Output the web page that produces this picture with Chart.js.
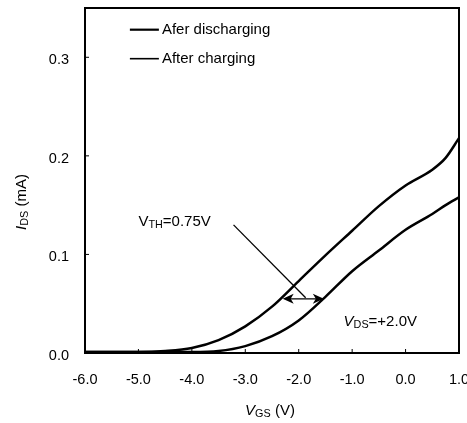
<!DOCTYPE html>
<html>
<head>
<meta charset="utf-8">
<script src="https://cdn.jsdelivr.net/npm/chart.js@4/dist/chart.umd.min.js"></script>
<style>
  html, body { margin: 0; padding: 0; background: #fff; }
  #wrap { width: 467px; height: 423px; }
</style>
</head>
<body>
<div id="wrap"><canvas id="myChart"></canvas></div>
<script>
// gate voltage (V)
const vgs = [-6.0, -5.5, -5.0, -4.5, -4.0, -3.5, -3.0, -2.5, -2.0, -1.5, -1.0, -0.5, 0.0, 0.5, 0.75, 1.0];
// drain current (mA)
const idsDischarging = [0.001, 0.001, 0.001, 0.002, 0.005, 0.013, 0.027, 0.047, 0.073, 0.099, 0.124, 0.149, 0.170, 0.186, 0.198, 0.218];
const idsCharging    = [0.001, 0.001, 0.001, 0.001, 0.001, 0.002, 0.007, 0.017, 0.033, 0.057, 0.083, 0.104, 0.125, 0.141, 0.150, 0.158];
const seriesLabels = ['Afer discharging', 'After charging'];
const xTicks = [-6, -5, -4, -3, -2, -1, 0, 1];
const yTicks = [0, 0.1, 0.2, 0.3];

// annotation anchors in data units
const arrowY = 0.055, arrowFrom = -2.3, arrowTo = -1.53;
const leaderFrom = [-3.22, 0.130], leaderTo = [-1.87, 0.056];
const vthPos = [-5.0, 0.133];
const vdsPos = [-1.16, 0.032];
const legendPos = [-5.16, 0.328];

const FONT = '"Liberation Sans", Arial, sans-serif';

function pts(ys) {
  return vgs.map((v, i) => ({ x: v, y: ys[i] }));
}

// draw a run of text parts, some subscript / italic
function drawParts(ctx, x, y, parts, size) {
  ctx.textBaseline = 'middle';
  ctx.textAlign = 'left';
  parts.forEach(p => {
    const s = p.sub ? size * 0.72 : size;
    ctx.font = (p.italic ? 'italic ' : '') + s + 'px ' + FONT;
    ctx.fillText(p.t, x, y + (p.sub ? size * 0.22 : 0));
    x += ctx.measureText(p.t).width;
  });
  return x;
}

function partsWidth(ctx, parts, size) {
  let w = 0;
  parts.forEach(p => {
    ctx.font = (p.italic ? 'italic ' : '') + (p.sub ? size * 0.72 : size) + 'px ' + FONT;
    w += ctx.measureText(p.t).width;
  });
  return w;
}

function arrowHead(ctx, x, y, dir) {
  ctx.beginPath();
  ctx.moveTo(x, y);
  ctx.lineTo(x - dir * 11, y - 5);
  ctx.lineTo(x - dir * 8, y);
  ctx.lineTo(x - dir * 11, y + 5);
  ctx.closePath();
  ctx.fill();
}

const extras = {
  id: 'extras',
  afterDraw(chart) {
    const ctx = chart.ctx, xs = chart.scales.x, ys = chart.scales.y, a = chart.chartArea;
    ctx.save();
    ctx.strokeStyle = '#000';
    ctx.fillStyle = '#000';

    // frame
    ctx.lineWidth = 2;
    ctx.strokeRect(a.left, a.top, a.right - a.left, a.bottom - a.top);

    // inward ticks
    ctx.lineWidth = 1;
    ctx.beginPath();
    xTicks.forEach(v => {
      const px = xs.getPixelForValue(v);
      ctx.moveTo(px, a.bottom); ctx.lineTo(px, a.bottom - 4);
    });
    yTicks.forEach(v => {
      const py = ys.getPixelForValue(v);
      ctx.moveTo(a.left, py); ctx.lineTo(a.left + 4, py);
    });
    ctx.stroke();

    // tick labels
    ctx.font = '14.5px ' + FONT;
    ctx.textBaseline = 'middle';
    ctx.textAlign = 'center';
    xTicks.forEach(v => ctx.fillText(v.toFixed(1), xs.getPixelForValue(v), a.bottom + 27));
    ctx.textAlign = 'right';
    yTicks.forEach(v => ctx.fillText(v.toFixed(1), a.left - 16, ys.getPixelForValue(v) + 3));
    ctx.textAlign = 'left';

    // legend
    const lx = xs.getPixelForValue(legendPos[0]);
    let ly = ys.getPixelForValue(legendPos[1]);
    seriesLabels.forEach((lab, i) => {
      ctx.lineWidth = i === 0 ? 2.2 : 1.6;
      ctx.beginPath();
      ctx.moveTo(lx, ly); ctx.lineTo(lx + 29, ly);
      ctx.stroke();
      ctx.font = '15px ' + FONT;
      ctx.textBaseline = 'middle';
      ctx.fillText(lab, lx + 32, ly);
      ly += 29;
    });

    // leader line
    ctx.lineWidth = 1.3;
    ctx.beginPath();
    ctx.moveTo(xs.getPixelForValue(leaderFrom[0]), ys.getPixelForValue(leaderFrom[1]));
    ctx.lineTo(xs.getPixelForValue(leaderTo[0]), ys.getPixelForValue(leaderTo[1]));
    ctx.stroke();

    // double arrow
    const ax1 = xs.getPixelForValue(arrowFrom), ax2 = xs.getPixelForValue(arrowTo), ay = ys.getPixelForValue(arrowY);
    ctx.beginPath();
    ctx.moveTo(ax1 + 4, ay); ctx.lineTo(ax2 - 4, ay);
    ctx.stroke();
    arrowHead(ctx, ax1, ay, -1);
    arrowHead(ctx, ax2, ay, 1);

    // annotations
    drawParts(ctx, xs.getPixelForValue(vthPos[0]), ys.getPixelForValue(vthPos[1]),
      [{ t: 'V' }, { t: 'TH', sub: true }, { t: '=0.75V' }], 15);
    drawParts(ctx, xs.getPixelForValue(vdsPos[0]), ys.getPixelForValue(vdsPos[1]),
      [{ t: 'V', italic: true }, { t: 'DS', sub: true }, { t: '=+2.0V' }], 15);

    // x title
    const partsX = [{ t: 'V', italic: true }, { t: 'GS', sub: true }, { t: ' (V)' }];
    let w = partsWidth(ctx, partsX, 15);
    drawParts(ctx, (a.left + a.right) / 2 - w / 2 - 2, 411, partsX, 15);

    // y title (rotated)
    ctx.translate(22, 202);
    ctx.rotate(-Math.PI / 2);
    const partsY = [{ t: 'I', italic: true }, { t: 'DS', sub: true }, { t: ' (mA)' }];
    w = partsWidth(ctx, partsY, 15);
    drawParts(ctx, -w / 2, 0, partsY, 15);

    ctx.restore();
  }
};

const config = {
  type: 'line',
  data: {
    datasets: [{
      label: seriesLabels[0],
      data: pts(idsDischarging),
      borderColor: '#000',
      borderWidth: 2.5,
      pointRadius: 0,
      cubicInterpolationMode: 'monotone'
    }, {
      label: seriesLabels[1],
      data: pts(idsCharging),
      borderColor: '#000',
      borderWidth: 2.5,
      pointRadius: 0,
      cubicInterpolationMode: 'monotone'
    }]
  },
  options: {
    responsive: true,
    maintainAspectRatio: false,
    animation: false,
    layout: { padding: { left: 0, right: 8, top: 8, bottom: 0 } },
    plugins: { legend: { display: false }, tooltip: { enabled: false } },
    scales: {
      x: {
        type: 'linear',
        min: -6, max: 1,
        afterFit: s => { s.height = 70; },
        grid: { display: false },
        border: { display: false },
        ticks: { display: false }
      },
      y: {
        min: 0, max: 0.35,
        afterFit: s => { s.width = 85; },
        grid: { display: false },
        border: { display: false },
        ticks: { display: false }
      }
    }
  },
  plugins: [extras]
};

const myChart = new Chart(document.getElementById('myChart'), config);
</script>
</body>
</html>
